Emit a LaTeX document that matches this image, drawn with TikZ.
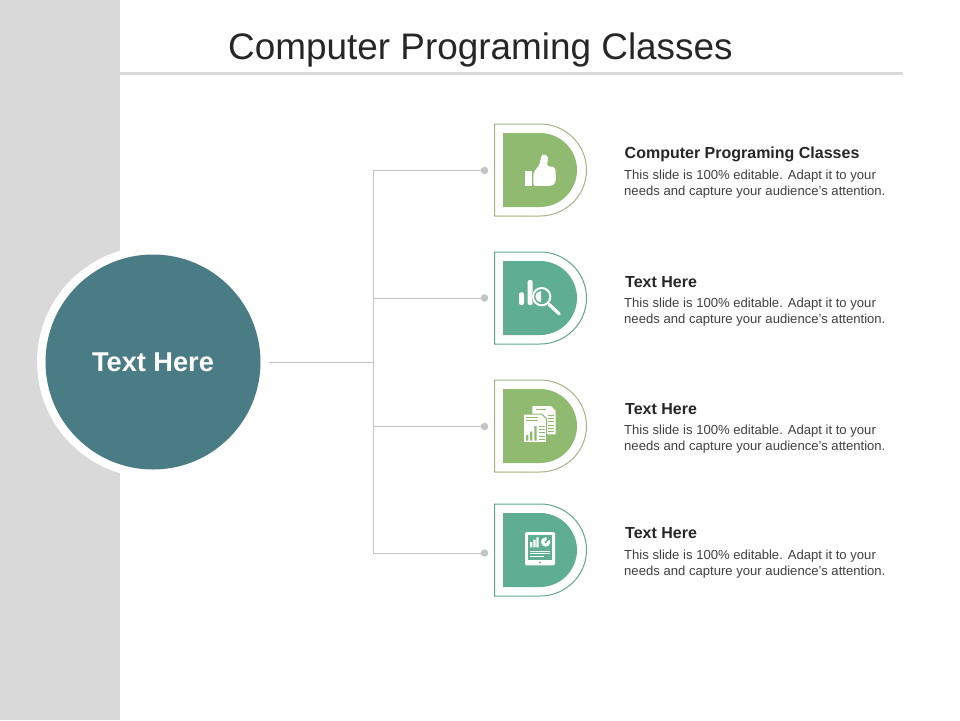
\documentclass[tikz,border=0pt]{standalone}
\usepackage{fontspec}
\setmainfont{Liberation Sans}
\usepackage{tikz}
\usetikzlibrary{positioning}
\definecolor{panelgrey}{HTML}{D9D9D9}
\definecolor{hubteal}{HTML}{4A7C85}
\definecolor{leafgreen}{HTML}{8FBA70}
\definecolor{seateal}{HTML}{5FAD93}
\definecolor{leafline}{HTML}{A3B484}
\definecolor{sealine}{HTML}{5FA58E}
\definecolor{wiregrey}{HTML}{C4C4C4}
\definecolor{inktext}{HTML}{404040}
\definecolor{titleink}{HTML}{262626}
\begin{document}
\begin{tikzpicture}[
            x=1pt,y=-1pt,
            hub/.style={
              circle,
              fill=hubteal,
              text=white,
              inner sep=0pt,
              minimum size=215pt,
              font=\fontsize{27.2}{30}\selectfont\bfseries
            },
            ring/.style={
              circle,
              fill=white,
              inner sep=0pt,
              minimum size=232pt
            },
            wire/.style={
              draw=wiregrey,
              line width=1pt
            },
            knob/.style={
              circle,
              fill=wiregrey,
              inner sep=0pt,
              minimum size=7.5pt
            },
            heading/.style={
              anchor=west,
              inner sep=0pt,
              text=titleink,
              font=\fontsize{16}{18}\selectfont\bfseries
            },
            body/.style={
              anchor=north west,
              inner sep=0pt,
              text=inktext,
              align=left,
              font=\fontsize{13.1}{16.2}\selectfont
            },
            icon/.style={
              x=0.3333pt,y=-0.3333pt
            }
            ]
            \useasboundingbox (0,0) rectangle (960,720);
            \fill[white] (0,0) rectangle (960,720);
            \fill[panelgrey] (0,0) rectangle (120,720);

            % title and rule
            \node[anchor=base west,inner sep=0pt,text=titleink,font=\fontsize{36.9}{40}\selectfont] (title) at (228,59) {Computer Programing Classes};
            \coordinate (ruleL) at (120,73);
            \coordinate (ruleR) at (903,73);
            \draw[panelgrey,line width=3pt] (ruleL) -- (ruleR);

            % big circle
            \node[ring] (ringo) at (153,362) {};
            \node[hub] (hubc) at (153,362) {\raisebox{-1pt}{Text Here}};
            \coordinate (trunk0) at (373,362);
            \coordinate (trunk1) at (373,170);
            \coordinate (trunk4) at (373,553);
            \draw[wire] (ringo.east) -- (trunk0);
            \draw[wire] (trunk1) -- (trunk4);

            % rows: number / centre / knob y / colours
            \foreach \n/\cy/\ky/\fillc/\linec in {1/170/170.5/leafgreen/leafline,
                                                  2/298/298/seateal/sealine,
                                                  3/426/426.5/leafgreen/leafline,
                                                  4/550/553/seateal/sealine}{
              \draw[\linec,line width=1pt] (494.5,\cy-46) -- (540,\cy-46)
                arc[start angle=-90,end angle=90,x radius=46.5,y radius=46] -- (494.5,\cy+46) -- cycle;
              \fill[\fillc] (503,\cy-37) -- (540,\cy-37)
                arc[start angle=-90,end angle=90,x radius=37,y radius=37] -- (503,\cy+37) -- cycle;
              \node[knob] (knob\n) at (484.5,\ky) {};
              \draw[wire] (373,\ky) -- (knob\n);
            }

            % texts
            \node[heading] (head1) at (624.5,154) {Computer Programing Classes};
            \node[heading] (head2) at (625,282) {Text Here};
            \node[heading] (head3) at (625,409) {Text Here};
            \node[heading] (head4) at (625,533) {Text Here};
            \foreach \n/\ty in {1/169.5,2/297.5,3/425,4/549.5}{
              \node[body] (copy\n) at (624,\ty) {This slide is 100\% editable. Adapt it to your\\needs and capture your audience's attention.};
            }

            % thumb
            \begin{scope}[icon,shift={(480pt,-110pt)}]
              \fill[white] (135,184) rectangle (155,228);
              \fill[white,rounded corners=2pt] (160,228) -- (160,188) -- (178,165) -- (186,132) -- (205,138) -- (201,168) -- (226,172) -- (228,215) -- (217,228) -- cycle;
            \end{scope}

            % lens
            \begin{scope}[icon,shift={(515pt,-275pt)}]
              \fill[white,rounded corners=2pt] (12,52) rectangle (27,90);
              \fill[white,rounded corners=2pt] (38,15) rectangle (53,90);
              \fill[seateal] (80,65) circle[radius=30];
              \draw[white,line width=2pt] (80,65) circle[radius=26];
              \fill[white] (78,48) arc[start angle=-90,end angle=-270,radius=17] -- cycle;
              \draw[white,line width=3.2pt,line cap=round] (102,88) -- (133,117);
            \end{scope}

            % sheets
            \begin{scope}[icon,shift={(515pt,-400pt)}]
              \fill[white] (52,18) -- (108,18) -- (122,32) -- (122,103) -- (52,103) -- cycle;
              \draw[leafgreen,line width=1pt] (62,28) -- (92,28);
              \foreach \ly in {45,55,65,75,85,95}{
                \draw[leafgreen,line width=0.7pt] (100,\ly) -- (117,\ly);
              }
              \filldraw[fill=white,draw=leafgreen,line width=1pt] (25,42) -- (80,42) -- (95,57) -- (95,128) -- (25,128) -- cycle;
              \draw[leafgreen,line width=1pt] (33,52) -- (70,52) (33,62) -- (70,62);
              \fill[leafgreen] (33,105) rectangle (40,122) (45,95) rectangle (52,122) (58,78) rectangle (65,122);
              \foreach \ly in {78,88,98,108,118}{
                \draw[leafgreen,line width=0.7pt] (72,\ly) -- (90,\ly);
              }
            \end{scope}

            % tablet
            \begin{scope}[icon,shift={(515pt,-528pt)}]
              \fill[white,rounded corners=1.5pt] (30,12) rectangle (120,112);
              \fill[seateal] (38,20) rectangle (112,95);
              \fill[white] (45,42) rectangle (52,58) (55,35) rectangle (62,58) (64,28) rectangle (71,58);
              \fill[white] (92,42) circle[radius=14];
              \fill[seateal] (92,42) -- (97,27) -- (108,33) -- cycle;
              \fill[seateal] (92,42) circle[radius=4];
              \draw[white,line width=0.8pt] (45,70) -- (105,70) (45,77) -- (105,77) (45,84) -- (88,84);
              \fill[seateal] (75,104) circle[radius=3];
            \end{scope}
        \end{tikzpicture}
\end{document}
